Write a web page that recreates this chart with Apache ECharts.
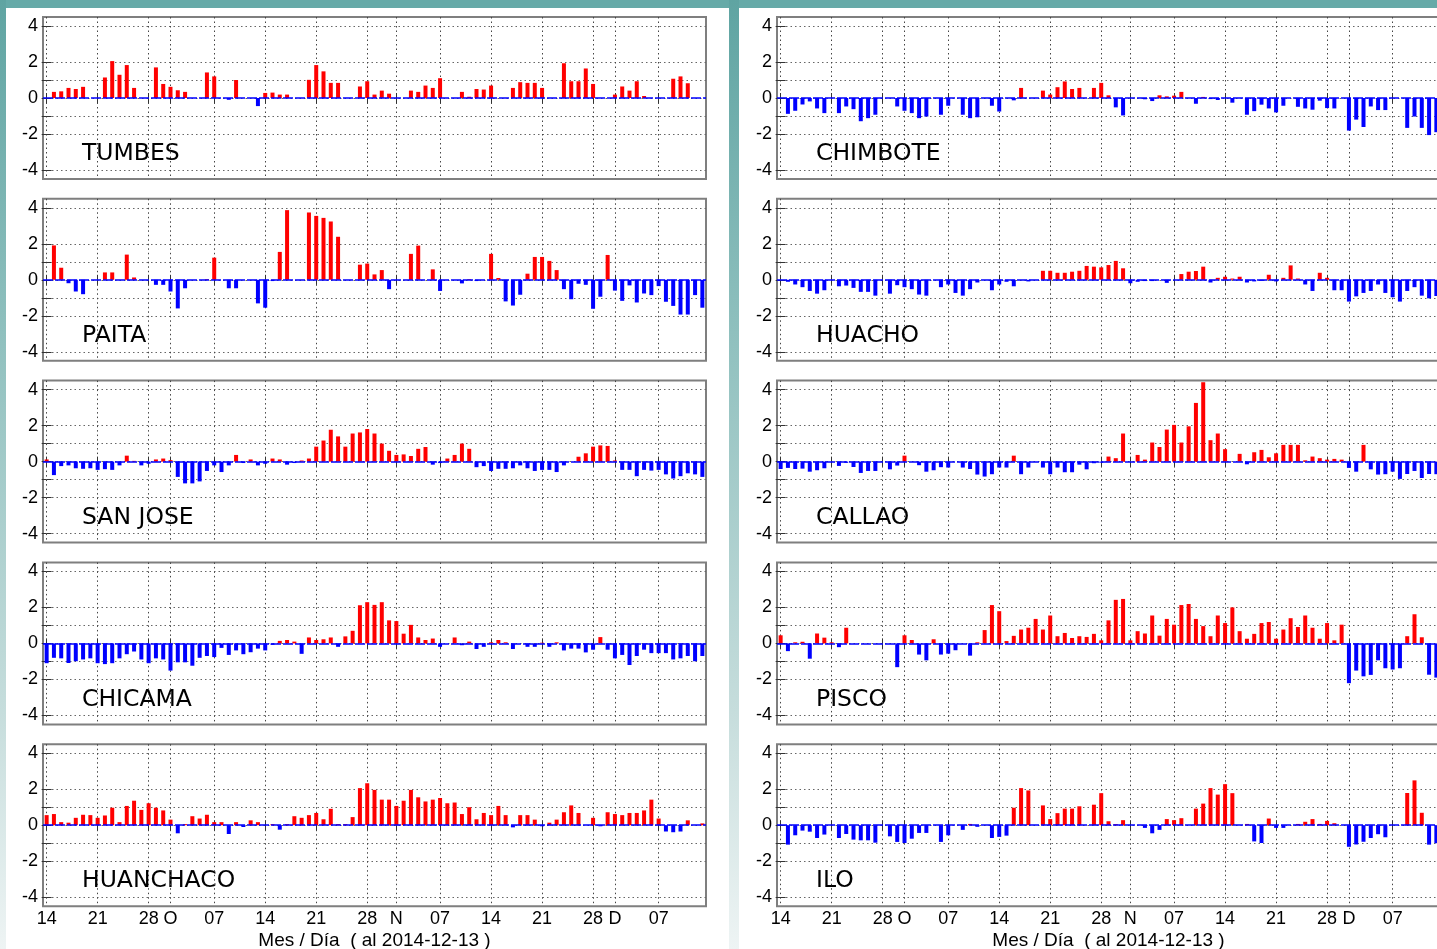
<!DOCTYPE html>
<html><head><meta charset="utf-8">
<script src="https://cdn.jsdelivr.net/npm/echarts@6.0.0/dist/echarts.min.js"></script>
<style>html,body{margin:0;padding:0;background:#fff;overflow:hidden}#c{width:1437px;height:949px}</style>
</head><body><div id="c"></div>
<script>
// day index 0 = 14 Sep 2014 ... 90 = 13 Dec 2014
const tickDays = [0,7,14,17,23,30,37,44,48,54,61,68,75,78,84];
const tickLabels = ['14','21','28','O','07','14','21','28','N','07','14','21','28','D','07'];
const yTickValues = [-4,-2,-1,0,1,2,4];
const yLabelValues = [-4,-2,0,2,4];
const stations = ['TUMBES','PAITA','SAN JOSE','CHICAMA','HUANCHACO','CHIMBOTE','HUACHO','CALLAO','PISCO','ILO'];
const xTitle = 'Mes / Día  ( al 2014-12-13 )';

const tumbes = [null,0.34,0.37,0.56,0.5,0.62,null,null,1.14,2.05,
1.29,1.83,0.56,null,null,1.7,0.78,0.62,0.43,0.34,
null,null,1.42,1.2,null,-0.1,1.0,null,null,-0.45,
0.28,0.3,0.19,0.19,null,null,1.01,1.83,1.48,0.84,
0.84,null,null,0.64,0.93,0.19,0.41,0.24,null,null,
0.41,0.34,0.69,0.56,1.1,null,null,0.34,0.07,0.5,
0.47,0.69,null,null,0.56,0.88,0.84,0.84,0.56,null,
null,1.93,0.93,0.93,1.64,0.78,null,null,0.19,0.64,
0.41,0.93,0.11,null,null,null,1.07,1.2,0.82,null,null];
const paita = [null,1.91,0.67,-0.19,-0.65,-0.8,null,null,0.41,0.41,
null,1.4,0.13,null,null,-0.28,-0.28,-0.65,-1.59,-0.47,
null,null,0.04,1.23,null,-0.47,-0.47,null,null,-1.31,
-1.55,-0.07,1.55,3.87,null,null,3.74,3.55,3.44,3.24,
2.39,null,null,0.84,0.9,0.3,0.54,-0.52,null,null,
1.44,1.9,null,0.58,-0.62,null,null,-0.2,0.04,-0.07,
null,1.44,0.1,-1.2,-1.43,-0.83,0.34,1.27,1.27,1.05,
0.54,-0.52,-1.08,-0.22,-0.28,-1.61,-0.94,1.38,-0.6,-1.17,
-0.31,-1.26,-0.76,-0.85,-0.35,-1.22,-1.45,-1.93,-1.93,-0.85,-1.55];
const sanJose = [0.12,-0.75,-0.25,-0.21,-0.37,-0.4,-0.37,-0.46,-0.42,-0.46,
-0.21,0.33,0.04,-0.21,-0.12,0.12,0.17,0.08,-0.85,-1.21,
-1.21,-1.1,-0.52,-0.21,-0.58,-0.21,0.37,-0.08,0.12,-0.21,
-0.12,0.17,0.12,-0.17,-0.08,0.06,0.17,0.83,1.17,1.77,
1.4,0.83,1.56,1.62,1.81,1.56,1.0,0.6,0.37,0.4,
0.31,0.71,0.81,-0.17,-0.08,0.17,0.37,1.0,0.71,-0.31,
-0.25,-0.52,-0.4,-0.4,-0.37,-0.21,-0.37,-0.52,-0.46,-0.46,
-0.58,-0.21,null,0.27,0.46,0.83,0.9,0.87,0.06,-0.46,
-0.46,-0.81,-0.46,-0.5,-0.46,-0.71,-0.94,-0.81,-0.65,-0.71,-0.85];
const chicama = [-1.1,-0.8,-0.83,-1.09,-0.99,-0.89,-0.83,-1.1,-1.15,-1.1,
-0.83,-0.6,-0.45,-0.89,-1.1,-0.83,-0.89,-1.51,-1.05,-1.05,
-1.24,-0.8,-0.7,-0.76,-0.25,-0.64,-0.39,-0.6,-0.49,-0.29,
-0.39,-0.08,0.14,0.19,0.1,-0.58,0.33,0.19,0.23,0.33,
-0.19,0.39,0.7,2.12,2.29,2.14,2.29,1.28,1.24,0.54,
1.03,0.33,0.19,0.27,-0.19,null,0.33,-0.1,0.1,-0.31,
-0.19,0.06,0.19,0.06,-0.31,null,-0.19,-0.19,0.04,-0.19,
0.06,-0.39,-0.29,-0.29,-0.5,-0.35,0.35,-0.35,-0.83,-0.64,
-1.2,-0.7,-0.35,-0.54,-0.54,-0.54,-0.89,-0.83,-0.7,-0.99,-0.7];
const huanchaco = [0.56,0.62,0.17,0.14,0.41,0.58,0.56,0.41,0.54,0.97,
0.17,1.07,1.36,0.85,1.22,0.97,0.82,0.31,-0.45,0.06,
0.5,0.37,0.58,0.17,0.17,-0.49,0.17,-0.1,0.27,0.17,
null,0.06,-0.25,0.06,0.5,0.41,0.56,0.68,0.33,0.91,
0.06,0.06,0.45,2.06,2.33,1.96,1.42,1.42,1.07,1.36,
1.96,1.55,1.32,1.42,1.51,1.22,1.26,0.62,1.0,0.33,
0.68,0.56,1.07,0.56,-0.12,0.56,0.56,0.31,-0.06,0.14,
0.31,0.72,1.1,0.68,null,0.41,-0.06,0.72,0.62,0.56,
0.68,0.68,0.82,1.42,0.37,-0.35,-0.39,-0.35,0.27,null,0.1];
const chimbote = [null,-0.88,-0.71,-0.36,-0.19,-0.58,-0.84,null,-0.84,-0.47,
-0.62,-1.29,-1.12,-0.93,null,null,-0.47,-0.71,-0.84,-1.12,
-1.03,null,-0.93,-0.43,null,-0.93,-1.12,-1.07,null,-0.43,
-0.75,null,-0.13,0.56,null,null,0.41,0.19,0.6,0.92,
0.5,0.56,null,0.56,0.84,0.15,-0.52,-0.97,null,null,
-0.07,-0.17,0.15,0.09,0.13,0.34,null,-0.32,0.06,-0.06,
-0.11,null,-0.26,null,-0.93,-0.73,-0.37,-0.58,-0.8,-0.43,
null,-0.49,-0.58,-0.65,-0.15,-0.56,-0.58,null,-1.81,-1.2,
-1.61,-0.47,-0.67,-0.67,null,null,-1.66,-1.03,-1.66,-2.06,-1.9];
const huacho = [null,-0.11,-0.26,-0.41,-0.62,-0.77,-0.58,null,-0.36,-0.32,
-0.45,-0.67,-0.67,-0.88,null,-0.77,-0.3,-0.41,-0.52,-0.82,
-0.88,null,-0.41,-0.26,-0.73,-0.88,-0.52,-0.15,null,-0.58,
-0.26,-0.11,-0.36,null,-0.09,null,0.5,0.5,0.39,0.39,
0.45,0.5,0.77,0.73,0.69,0.82,1.05,0.64,-0.19,-0.11,
-0.07,-0.07,null,-0.17,null,0.32,0.45,0.49,0.73,-0.15,
0.11,0.17,0.07,0.17,-0.15,-0.09,-0.06,0.28,-0.09,0.11,
0.8,0.07,-0.26,-0.62,0.39,0.11,-0.58,-0.58,-1.21,-0.92,
-0.73,-0.62,-0.26,-0.73,-0.97,-1.21,-0.62,-0.41,-0.88,-1.03,-0.9];
const callao = [-0.41,-0.35,-0.41,-0.39,-0.56,-0.48,-0.37,null,-0.24,-0.07,
-0.3,-0.63,-0.52,-0.52,null,-0.43,-0.22,0.33,null,-0.2,
-0.56,-0.48,-0.31,-0.33,null,-0.33,-0.41,-0.72,-0.83,-0.7,
-0.33,-0.33,0.33,-0.7,-0.33,null,-0.33,-0.7,-0.33,-0.59,
-0.59,-0.17,-0.43,-0.09,-0.06,0.28,0.19,1.56,null,0.37,
0.11,1.06,0.81,1.78,2.04,1.06,1.96,3.26,4.41,1.19,
1.56,0.69,null,0.43,-0.15,0.52,0.65,0.24,0.46,0.93,
0.93,0.93,0.07,0.28,0.19,0.11,0.15,0.11,-0.35,-0.56,
0.93,-0.43,-0.72,-0.7,-0.56,-0.96,-0.69,-0.52,-0.91,-0.69,-0.7];
const pisco = [0.45,-0.43,0.06,0.09,-0.85,0.55,0.32,0.06,-0.21,0.87,
null,null,null,null,null,null,-1.32,0.45,0.19,-0.62,
-0.94,0.23,-0.62,-0.57,-0.38,null,-0.68,0.06,0.74,2.13,
1.79,0.13,0.42,0.77,0.87,1.36,0.77,1.55,0.4,0.58,
0.3,0.4,0.36,0.53,0.17,1.28,2.42,2.47,0.17,0.68,
0.55,1.55,0.43,1.36,1.04,2.13,2.19,1.36,0.96,0.4,
1.55,1.13,2.0,0.68,0.26,0.53,1.13,1.19,0.26,0.77,
1.4,0.91,1.55,0.87,0.26,1.13,0.17,1.04,-2.21,-1.51,
-1.83,-1.75,-0.94,-1.38,-1.45,-1.38,0.4,1.62,0.34,-1.74,-1.9];
const ilo = [null,-1.08,-0.56,-0.3,-0.36,-0.71,-0.52,null,-0.71,-0.49,
-0.8,-0.84,-0.84,-0.97,null,-0.62,-0.93,-0.99,-0.75,-0.43,
-0.43,null,-0.93,-0.56,null,-0.26,0.07,-0.09,null,-0.71,
-0.65,-0.58,0.97,2.06,1.93,null,1.1,0.34,0.67,0.92,
0.92,1.05,null,1.14,1.78,0.22,0.06,0.28,null,null,
-0.15,-0.45,-0.26,0.34,0.28,0.39,null,0.92,1.2,2.06,
1.7,2.28,1.78,null,0.07,-0.9,-0.99,0.37,-0.15,-0.15,
null,0.07,0.19,0.34,0.07,0.24,0.11,null,-1.2,-1.07,
-0.92,-0.71,-0.5,-0.67,null,null,1.79,2.49,0.69,-1.08,-1.0];

const allSeries = [tumbes,paita,sanJose,chicama,huanchaco,chimbote,huacho,callao,pisco,ilo];

const chart = echarts.init(document.getElementById('c'), null, {renderer:'canvas'});
const colLeft = [43, 777];
const gridW = 663, gridH = 162, zero0 = 98, pitch = 181.8;
const labelFont = 'Liberation Sans, Arial, sans-serif';
const grids = [], xAxes = [], yAxes = [], series = [];
const teal = new echarts.graphic.LinearGradient(0,0,0,1,[
  {offset:0,color:'#5fa4a2'},{offset:0.35,color:'#8fc0be'},{offset:0.75,color:'#c6dddc'},{offset:1,color:'#eef4f4'}]);
const graphics = [
  {type:'rect', shape:{x:0,y:0,width:1437,height:8}, style:{fill:'#66aaa8'}, silent:true},
  {type:'rect', shape:{x:0,y:0,width:6,height:949}, style:{fill:teal}, silent:true},
  {type:'rect', shape:{x:729,y:0,width:10,height:949}, style:{fill:teal}, silent:true}
];

allSeries.forEach((vals, i) => {
  const col = i < 5 ? 0 : 1, row = i % 5;
  const left = colLeft[col];
  const zeroY = zero0 + row * pitch;
  const bottomRow = row === 4;
  grids.push({left: left, top: zeroY - gridH/2, width: gridW, height: gridH,
    show: true, borderColor: '#7f7f7f', borderWidth: 2, backgroundColor: '#fff',
    containLabel: false, outerBoundsMode: 'none'});
  xAxes.push({
    type: 'value', gridIndex: i, min: -0.5, max: 90.5, position: 'bottom',
    axisLine: {show: false},
    axisTick: {show: true, inside: true, length: 5, customValues: tickDays, lineStyle: {color: '#333', width: 1}},
    axisLabel: {show: bottomRow, customValues: tickDays, margin: 4,
      formatter: v => { const k = tickDays.indexOf(Math.round(v)); return k >= 0 ? tickLabels[k] : ''; },
      fontSize: 18, color: '#000', fontFamily: labelFont},
    splitLine: {show: true, lineStyle: {type: [1.5, 3], color: '#444', width: 1}},
    name: bottomRow ? xTitle : '', nameLocation: 'middle', nameGap: 25,
    nameTextStyle: {fontSize: 19, color: '#000', fontFamily: labelFont}
  });
  xAxes.push({
    type: 'value', gridIndex: i, min: -0.5, max: 90.5, position: 'top',
    axisLine: {show: false},
    axisTick: {show: true, inside: true, length: 5, customValues: tickDays, lineStyle: {color: '#333', width: 1}},
    axisLabel: {show: false}, splitLine: {show: false}
  });
  yAxes.push({
    type: 'value', gridIndex: i, min: -4.5, max: 4.5, position: 'left',
    axisLine: {show: false},
    axisTick: {show: true, inside: true, length: 5, customValues: yTickValues, lineStyle: {color: '#333', width: 1}},
    axisLabel: {show: true, customValues: yLabelValues, margin: 5, fontSize: 18, color: '#000', fontFamily: labelFont},
    splitLine: {show: true, lineStyle: {type: [1.5, 3], color: '#666', width: 1}}
  });
  yAxes.push({
    type: 'value', gridIndex: i, min: -4.5, max: 4.5, position: 'right',
    axisLine: {show: false},
    axisTick: {show: true, inside: true, length: 5, customValues: yTickValues, lineStyle: {color: '#333', width: 1}},
    axisLabel: {show: false}, splitLine: {show: false}
  });
  series.push({
    type: 'bar', name: stations[i], xAxisIndex: 2*i, yAxisIndex: 2*i,
    barWidth: 4, animation: false,
    data: vals.map((v, d) => [d, v]).filter(p => p[1] !== null),
    itemStyle: {color: p => (p.value[1] >= 0 ? '#ff0000' : '#0000ff')},
    markLine: {silent: true, symbol: 'none', animation: false, label: {show: false},
      lineStyle: {color: '#0000ff', type: [10, 2], width: 1.5},
      emphasis: {disabled: true},
      data: [{yAxis: 0}]}
  });
  graphics.push({type: 'text', x: left + 39, y: zeroY + 56, silent: true,
    style: {text: stations[i], font: '23.5px "DejaVu Sans"', fill: '#000', verticalAlign: 'middle', align: 'left'}});
});

chart.setOption({
  animation: false,
  backgroundColor: '#ffffff',
  grid: grids, xAxis: xAxes, yAxis: yAxes, series: series, graphic: graphics
});
</script></body></html>
